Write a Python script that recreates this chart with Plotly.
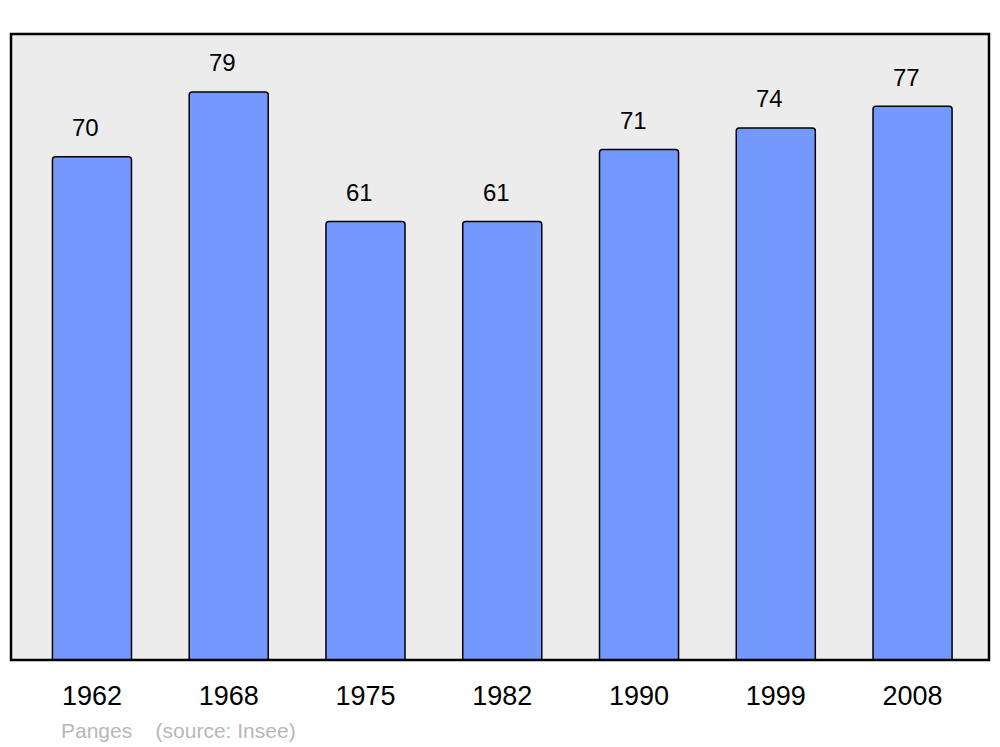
import plotly.graph_objects as go

years = ["1962", "1968", "1975", "1982", "1990", "1999", "2008"]
population = [70, 79, 61, 61, 71, 74, 77]
footer_place = "Panges"
footer_source = "(source: Insee)"

xs = list(range(len(years)))
FONT = "Liberation Sans, Arial, sans-serif"

fig = go.Figure()
fig.add_trace(go.Bar(
    x=xs, y=population, width=0.578,
    marker=dict(color="#7399ff", line=dict(color="#000000", width=1.5), cornerradius=3),
    hoverinfo="skip",
))

for x, v in zip(xs, population):
    fig.add_annotation(x=x, y=v, text=str(v), showarrow=False, xref="x", yref="y",
                       yanchor="middle", xanchor="center", yshift=29, xshift=-6,
                       font=dict(family=FONT, size=24, color="#000000"))

fig.add_annotation(x=(59 - 11) / 978, y=(660 - 730) / 626, xref="paper", yref="paper",
                   text=footer_place + "&nbsp;&nbsp;&nbsp;&nbsp;" + footer_source, showarrow=False,
                   xanchor="left", yanchor="middle",
                   font=dict(family=FONT, size=21, color="#b8b8b8"))

fig.add_shape(type="rect", xref="paper", yref="paper", x0=0, x1=1, y0=0, y1=1,
              line=dict(color="#000000", width=2.5), layer="above")

fig.update_layout(
    width=1000, height=747,
    margin=dict(l=11, r=11, t=34, b=87),
    paper_bgcolor="#ffffff", plot_bgcolor="#ececec",
    showlegend=False,
    xaxis=dict(range=[-0.592, 6.559], tickvals=xs, ticktext=years, showgrid=False, zeroline=False,
               ticks="outside", ticklen=12, tickcolor="rgba(0,0,0,0)",
               tickfont=dict(family=FONT, size=27, color="#000000")),
    yaxis=dict(range=[0, 87.06], showticklabels=False, showgrid=False, zeroline=False, ticks=""),
)

fig.write_html("out.html", config={"displayModeBar": False},
               post_script="document.body.style.margin='0';document.body.style.padding='0';")
